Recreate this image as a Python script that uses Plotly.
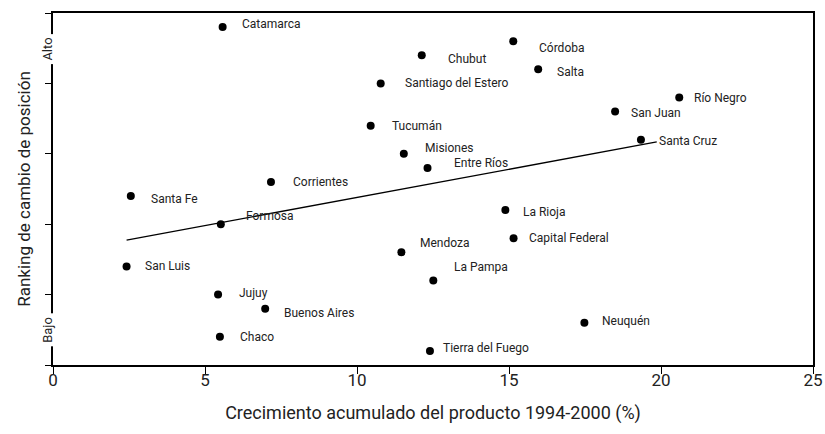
import plotly.graph_objects as go

# --- data ---
provincias = ['Catamarca', 'Córdoba', 'Chubut', 'Salta', 'Santiago del Estero', 'Río Negro',
              'San Juan', 'Tucumán', 'Santa Cruz', 'Misiones', 'Entre Ríos', 'Corrientes',
              'Santa Fe', 'La Rioja', 'Formosa', 'Capital Federal', 'Mendoza', 'San Luis',
              'La Pampa', 'Jujuy', 'Buenos Aires', 'Neuquén', 'Chaco', 'Tierra del Fuego']
crecimiento = [5.58, 15.14, 12.13, 15.96, 10.78, 20.60,
               18.49, 10.45, 19.34, 11.54, 12.32, 7.17,
               2.56, 14.88, 5.52, 15.15, 11.46, 2.42,
               12.51, 5.43, 6.98, 17.48, 5.49, 12.40]
ranking = [24, 23, 22, 21, 20, 19,
           18, 17, 16, 15, 14, 13,
           12, 11, 10, 9, 8, 7,
           6, 5, 4, 3, 2, 1]

# tendencia lineal (extremos)
trend_x = [2.42, 19.86]
trend_y = [8.87, 15.84]

x_ticks = [0, 5, 10, 15, 20, 25]
y_ticks = [0, 5, 10, 15, 20, 25]

# label offsets in px (dx to label left edge, dy down positive)
offsets = {
    'Catamarca': (17, -3), 'Córdoba': (24, 7), 'Chubut': (24, 4), 'Salta': (17, 3),
    'Santiago del Estero': (22, 0), 'Río Negro': (13, 1), 'San Juan': (14, 1),
    'Tucumán': (19, 0), 'Santa Cruz': (16, 1), 'Misiones': (19, -6),
    'Entre Ríos': (24, -5), 'Corrientes': (20, 0), 'Santa Fe': (18, 3),
    'La Rioja': (16, 2), 'Formosa': (23, -8), 'Capital Federal': (13, 0),
    'Mendoza': (17, -9), 'San Luis': (16, 0), 'La Pampa': (19, -14),
    'Jujuy': (19, -2), 'Buenos Aires': (17, 4), 'Neuquén': (16, -2),
    'Chaco': (18, 0), 'Tierra del Fuego': (11, -3),
}

FONT = 'Roboto, DejaVu Sans Condensed, sans-serif'

fig = go.Figure()

fig.add_trace(go.Scatter(x=trend_x, y=trend_y, mode='lines',
                         line=dict(color='black', width=1.3),
                         hoverinfo='skip', showlegend=False))

fig.add_trace(go.Scatter(x=crecimiento, y=ranking, mode='markers',
                         marker=dict(color='black', size=8),
                         text=provincias, showlegend=False))

for name, xv, yv in zip(provincias, crecimiento, ranking):
    dx, dy = offsets[name]
    fig.add_annotation(x=xv, y=yv, text=name, showarrow=False,
                       xanchor='left', yanchor='middle',
                       xshift=dx, yshift=-dy,
                       font=dict(family=FONT, size=12, color='#222'))

# Alto / Bajo on the y axis
for txt, yv in [('Alto', 22.4), ('Bajo', 2.5)]:
    fig.add_annotation(x=0, y=yv, xref='x', yref='y', text=txt, showarrow=False,
                       textangle=-90, xshift=-5, bgcolor='white', borderpad=3,
                       font=dict(family=FONT, size=13, color='#222'))

fig.update_layout(
    width=825, height=434,
    margin=dict(l=53, r=12, t=13, b=69),
    plot_bgcolor='white', paper_bgcolor='white',
    font=dict(family=FONT, color='#222'),
)

fig.update_xaxes(range=[0, 25], tickvals=x_ticks, showgrid=False, zeroline=False,
                 automargin=False, ticklabeloverflow='allow',
                 showline=True, linecolor='black', linewidth=1.5, mirror=True,
                 ticks='outside', ticklen=7, tickcolor='black', tickwidth=1.3,
                 ticklabelstandoff=-8,
                 tickfont=dict(size=17, family=FONT),
                 title=dict(text='Crecimiento acumulado del producto 1994-2000 (%)',
                            font=dict(size=18, family=FONT), standoff=17))

fig.update_yaxes(range=[0, 25], tickvals=y_ticks, showticklabels=False,
                 showgrid=False, zeroline=False, automargin=False,
                 showline=True, linecolor='black', linewidth=1.5, mirror=True,
                 ticks='outside', ticklen=6, tickcolor='black', tickwidth=1.3,
                 title=dict(text='Ranking de cambio de posición',
                            font=dict(size=17, family=FONT), standoff=10))

# drop the default 8px body margin so the figure fills the window exactly
fig.write_html('out.html', config={'displayModeBar': False},
               post_script="document.body.style.margin = '0';")
